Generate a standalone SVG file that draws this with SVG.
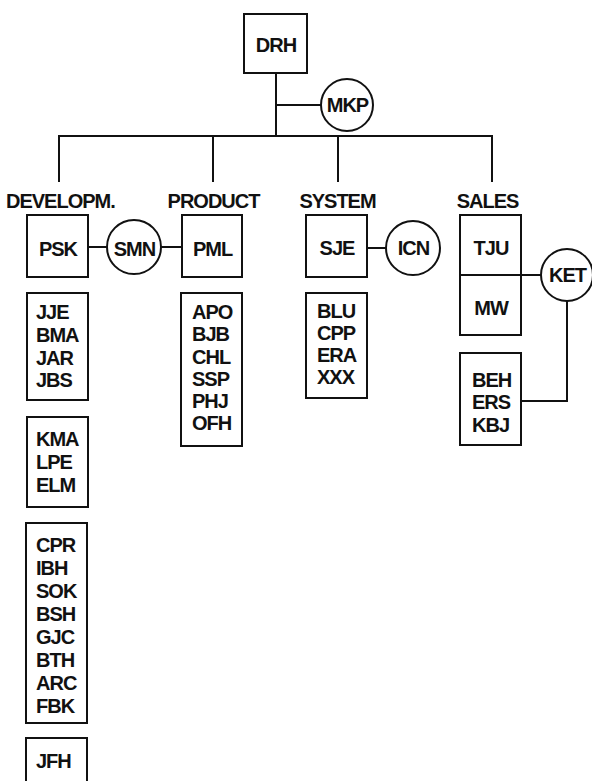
<svg xmlns="http://www.w3.org/2000/svg" width="592" height="781" viewBox="0 0 592 781">
<style>
.b{fill:#fff;stroke:#111;stroke-width:2}
.c{fill:none;stroke:#111;stroke-width:2}
text{font-family:"Liberation Sans",Arial,sans-serif;font-size:20px;font-weight:bold;letter-spacing:-1px;fill:#111}
.m{text-anchor:middle}
</style>
<rect width="592" height="781" fill="#fff"/>
<g id="connectors" class="c">
<path d="M276 73V136M276 105H321M59 182V136H492V182M213 136V182M338 136V182"/>
<path d="M88 247H107M161 247H182"/>
<path d="M367 248H386"/>
<path d="M521 275H541M567 301V401H521"/>
</g>
<g id="DRH"><rect class="b" x="244" y="14" width="63" height="59"/><text class="m" x="276" y="52">DRH</text></g>
<g id="MKP"><circle class="b" cx="347" cy="105" r="26"/><text class="m" x="347.5" y="112">MKP</text></g>
<g id="DEVELOPM"><text x="6" y="208">DEVELOPM.</text></g>
<g id="PRODUCT"><text class="m" x="213.5" y="208">PRODUCT</text></g>
<g id="SYSTEM"><text class="m" x="337.5" y="208">SYSTEM</text></g>
<g id="SALES"><text class="m" x="487.5" y="208">SALES</text></g>
<g id="PSK"><rect class="b" x="27" y="215" width="61" height="62"/><text class="m" x="58" y="256">PSK</text></g>
<g id="SMN"><circle class="b" cx="134" cy="247" r="27"/><text class="m" x="134.5" y="256">SMN</text></g>
<g id="PML"><rect class="b" x="182" y="215" width="60" height="62"/><text class="m" x="212.5" y="256">PML</text></g>
<g id="SJE"><rect class="b" x="306" y="215" width="61" height="62"/><text class="m" x="337" y="255">SJE</text></g>
<g id="ICN"><circle class="b" cx="413" cy="248" r="27"/><text class="m" x="413.5" y="255">ICN</text></g>
<g id="TJU"><rect class="b" x="460" y="215" width="61" height="60"/><text class="m" x="491" y="255">TJU</text></g>
<g id="MW"><rect class="b" x="460" y="275" width="61" height="60"/><text class="m" x="491" y="315">MW</text></g>
<g id="KET"><circle class="b" cx="567" cy="275" r="26"/><text class="m" x="567.5" y="282">KET</text></g>
<g id="dev1"><rect class="b" x="27" y="293" width="61" height="107"/>
<text x="36" y="319">JJE</text><text x="36" y="342">BMA</text><text x="36" y="365">JAR</text><text x="36" y="387">JBS</text></g>
<g id="dev2"><rect class="b" x="27" y="417" width="61" height="90"/>
<text x="36" y="446">KMA</text><text x="36" y="469">LPE</text><text x="36" y="492">ELM</text></g>
<g id="dev3"><rect class="b" x="26" y="523" width="61" height="200"/>
<text x="36" y="552">CPR</text><text x="36" y="575">IBH</text><text x="36" y="598">SOK</text><text x="36" y="621">BSH</text><text x="36" y="644">GJC</text><text x="36" y="667">BTH</text><text x="36" y="690">ARC</text><text x="36" y="713">FBK</text></g>
<g id="dev4"><rect class="b" x="26" y="738" width="61" height="70"/><text x="36" y="768">JFH</text></g>
<g id="prod1"><rect class="b" x="181" y="293" width="61" height="153"/>
<text x="192" y="319">APO</text><text x="192" y="341">BJB</text><text x="192" y="364">CHL</text><text x="192" y="386">SSP</text><text x="192" y="408">PHJ</text><text x="192" y="430">OFH</text></g>
<g id="sys1"><rect class="b" x="306" y="293" width="61" height="105"/>
<text x="317" y="318">BLU</text><text x="317" y="340">CPP</text><text x="317" y="362">ERA</text><text x="317" y="384">XXX</text></g>
<g id="sales1"><rect class="b" x="460" y="353" width="61" height="92"/>
<text x="472" y="387">BEH</text><text x="472" y="409">ERS</text><text x="472" y="432">KBJ</text></g>
</svg>
